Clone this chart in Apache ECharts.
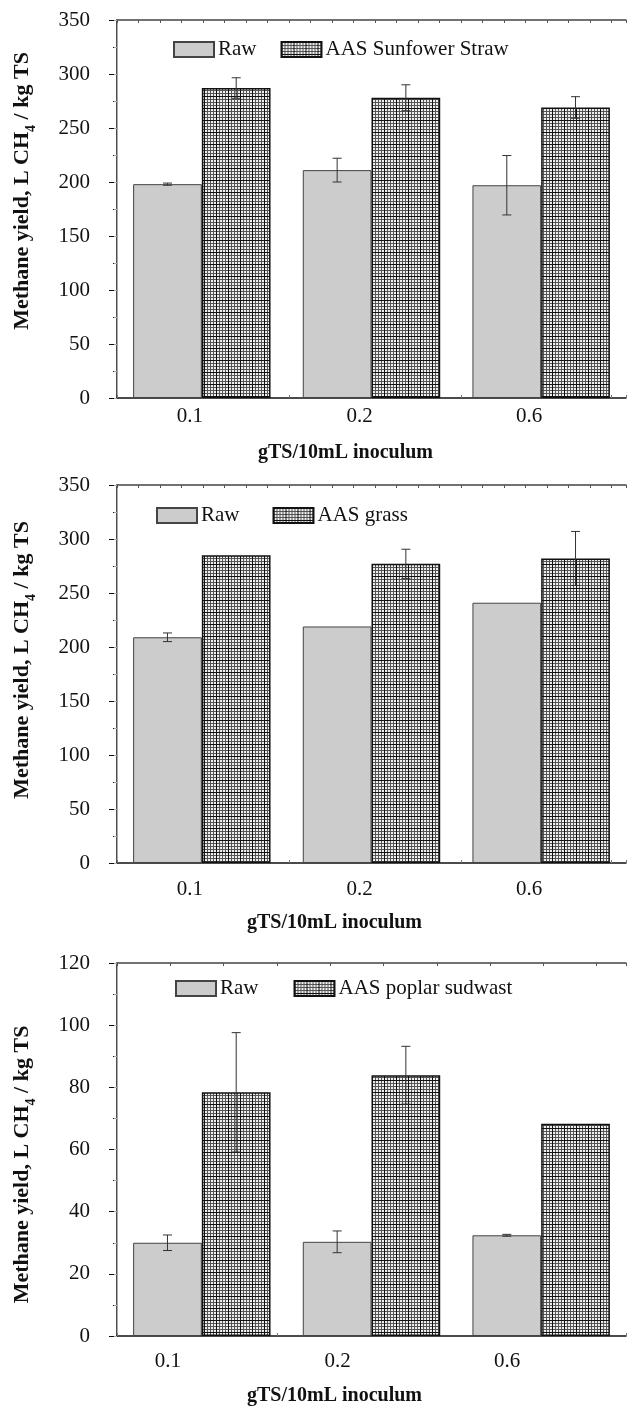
<!DOCTYPE html>
<html>
<head>
<meta charset="utf-8">
<title>Methane yield</title>
<script src="https://cdn.jsdelivr.net/npm/echarts@6/dist/echarts.min.js"></script>
<style>
    html, body { margin: 0; padding: 0; background: #fff; }
    #chart { width: 627px; height: 1407px; }
</style>
</head>
<body>
<div id="chart"></div>
<script>
//数据
var categories = ['0.1', '0.2', '0.6'];
var legendNames = ['AAS Sunfower Straw', 'AAS grass', 'AAS poplar sudwast'];

var sunRaw = [198, 211, 197];
var sunRawErr = [1, 11, 27.5];
var sunAas = [287, 278, 269];
var sunAasErr = [9.5, 12, 10];

var grassRaw = [209, 219, 241];
var grassRawErr = [4, 0, 0];
var grassAas = [285, 277, 282];
var grassAasErr = [0, 13.5, 25];

var poplarRaw = [30, 30.3, 32.4];
var poplarRawErr = [2.5, 3.5, 0.3];
var poplarAas = [78.4, 83.9, 68.3];
var poplarAasErr = [19.2, 9.3, 0];

var yMax = [350, 350, 120];
var yStep = [50, 50, 20];

var SERIF = '"Liberation Serif", "Times New Roman", serif';
var GAP = 0.19;

//网格底纹
function makeHatch() {
    var c = document.createElement('canvas');
    c.width = 12;
    c.height = 12;
    var g = c.getContext('2d');
    g.fillStyle = '#eeeeee';
    g.fillRect(0, 0, 12, 12);
    g.fillStyle = '#555';
    for (var i = 0; i < 12; i += 3) {
        g.fillRect(i, 0, 1, 12);
        g.fillRect(0, i, 12, 1);
    }
    g.fillStyle = '#111';
    g.fillRect(0, 0, 1, 12);
    g.fillRect(0, 0, 12, 1);
    return c;
}
var hatch = { image: makeHatch(), repeat: 'repeat' };

var grids = [
    { left: 117, top: 20, width: 509, height: 378 },
    { left: 117, top: 485, width: 509, height: 378 },
    { left: 117, top: 963, width: 509, height: 376 }
];
//每个面板的细节位置
var labelMargin = [8, 16, 15];
var labelShift = [24, 24, 68];
var xNameGap = [45, 50, 50];
var xNameShift = [52, 74, 74];
var yNamePad = [[0, 0, 0, 36], [0, 0, 0, 28], [0, 30, 0, 0]];
var tickStep = [21.5, 21.5, 53.3];
var legendPos = [[168, 34, 24], [151, 500, 33], [170, 973, 35]];

var xAxes = [];
var yAxes = [];
var series = [];
var legends = [];

function yTitle() {
    return '{a|Methane yield, L CH}{s|4}{a| / kg TS}';
}

function errSeries(p, vals, errs, side) {
    var data = vals.map(function (v, i) { return [i, v, errs[i]]; });
    return {
        type: 'custom',
        xAxisIndex: 3 * p,
        yAxisIndex: 2 * p,
        z: 5,
        silent: true,
        data: data,
        renderItem: function (params, api) {
            var err = api.value(2);
            if (!err) return null;
            var c = api.coord([api.value(0), api.value(1)]);
            var band = api.size([1, 0])[0];
            var bw = band * (1 - GAP) / 2;
            var x = c[0] + side * bw / 2;
            var hi = api.coord([api.value(0), api.value(1) + err])[1];
            var lo = api.coord([api.value(0), api.value(1) - err])[1];
            var cap = 4.5;
            var st = { stroke: '#333', lineWidth: 1 };
            return {
                type: 'group',
                children: [
                    { type: 'line', shape: { x1: x, y1: hi, x2: x, y2: lo }, style: st },
                    { type: 'line', shape: { x1: x - cap, y1: hi, x2: x + cap, y2: hi }, style: st },
                    { type: 'line', shape: { x1: x - cap, y1: lo, x2: x + cap, y2: lo }, style: st }
                ]
            };
        }
    };
}

var panels = [
    [sunRaw, sunRawErr, sunAas, sunAasErr],
    [grassRaw, grassRawErr, grassAas, grassAasErr],
    [poplarRaw, poplarRawErr, poplarAas, poplarAasErr]
];

for (var p = 0; p < 3; p++) {
    //类目轴
    xAxes.push({
        type: 'category',
        gridIndex: p,
        data: categories,
        position: 'bottom',
        axisLine: { show: true, lineStyle: { color: '#111', width: 1.5 } },
        axisTick: { show: false },
        axisLabel: {
            margin: labelMargin[p],
            fontSize: 21,
            color: '#111',
            fontFamily: SERIF,
            padding: [0, labelShift[p], 0, 0]
        },
        name: 'gTS/10mL inoculum',
        nameLocation: 'middle',
        nameGap: xNameGap[p],
        nameTextStyle: {
            fontSize: 20,
            fontWeight: 'bold',
            color: '#111',
            fontFamily: SERIF,
            padding: [0, xNameShift[p], 0, 0]
        }
    });
    //底部小刻度
    xAxes.push({
        type: 'value',
        gridIndex: p,
        position: 'bottom',
        min: 0,
        max: 509,
        interval: tickStep[p],
        axisLine: { show: false },
        axisTick: { show: true, inside: true, length: 3, lineStyle: { color: '#777' } },
        axisLabel: { show: false },
        splitLine: { show: false }
    });
    //顶部边框
    xAxes.push({
        type: 'value',
        gridIndex: p,
        position: 'top',
        min: 0,
        max: 509,
        interval: tickStep[p],
        axisLine: { show: true, lineStyle: { color: '#444', width: 1.5 } },
        axisTick: { show: true, inside: true, length: 3, lineStyle: { color: '#555' } },
        axisLabel: { show: false },
        splitLine: { show: false }
    });

    yAxes.push({
        type: 'value',
        gridIndex: p,
        position: 'left',
        min: 0,
        max: yMax[p],
        interval: yStep[p],
        axisLine: { show: true, lineStyle: { color: '#111', width: 1.5 } },
        axisTick: { show: true, inside: false, length: 8, lineStyle: { color: '#111' } },
        minorTick: { show: true, splitNumber: 2, length: 4, lineStyle: { color: '#111' } },
        splitLine: { show: false },
        minorSplitLine: { show: false },
        axisLabel: { margin: 27, fontSize: 21, color: '#111', fontFamily: SERIF },
        name: yTitle(),
        nameLocation: 'middle',
        nameRotate: 90,
        nameGap: 79,
        nameTextStyle: {
            fontSize: 22,
            fontWeight: 'bold',
            color: '#111',
            fontFamily: SERIF,
            padding: yNamePad[p],
            rich: {
                a: { fontSize: 22, fontWeight: 'bold', fontFamily: SERIF, color: '#111', lineHeight: 32 },
                s: { fontSize: 14, fontWeight: 'bold', fontFamily: SERIF, color: '#111', lineHeight: 14, verticalAlign: 'bottom' }
            }
        }
    });
    //右侧边框
    yAxes.push({
        type: 'value',
        gridIndex: p,
        position: 'right',
        min: 0,
        max: yMax[p],
        interval: yStep[p] / 2,
        axisLine: { show: true, lineStyle: { color: '#aaa', width: 1 } },
        axisTick: { show: true, inside: true, length: 3, lineStyle: { color: '#aaa' } },
        axisLabel: { show: false },
        splitLine: { show: false }
    });

    var d = panels[p];
    series.push({
        type: 'bar',
        name: 'Raw',
        xAxisIndex: 3 * p,
        yAxisIndex: 2 * p,
        data: d[0],
        barGap: '0%',
        barCategoryGap: (GAP * 100) + '%',
        silent: true,
        itemStyle: { color: '#cccccc', borderColor: '#444', borderWidth: 1 }
    });
    series.push({
        type: 'bar',
        name: legendNames[p],
        xAxisIndex: 3 * p,
        yAxisIndex: 2 * p,
        data: d[2],
        barGap: '0%',
        barCategoryGap: (GAP * 100) + '%',
        silent: true,
        itemStyle: { color: hatch, borderColor: '#111', borderWidth: 1.5 }
    });
    series.push(errSeries(p, d[0], d[1], -1));
    series.push(errSeries(p, d[2], d[3], 1));

    legends.push({
        left: legendPos[p][0],
        top: legendPos[p][1],
        orient: 'horizontal',
        itemWidth: 40,
        itemHeight: 15,
        itemGap: legendPos[p][2],
        icon: 'rect',
        selectedMode: false,
        data: ['Raw', legendNames[p]],
        textStyle: { fontSize: 21, color: '#111', fontFamily: SERIF, padding: [0, 0, 0, -1] }
    });
}

var myChart = echarts.init(document.getElementById('chart'), null, { renderer: 'canvas' });
var option = {
    backgroundColor: '#fff',
    animation: false,
    grid: grids,
    legend: legends,
    xAxis: xAxes,
    yAxis: yAxes,
    series: series
};
myChart.setOption(option);
</script>
</body>
</html>
